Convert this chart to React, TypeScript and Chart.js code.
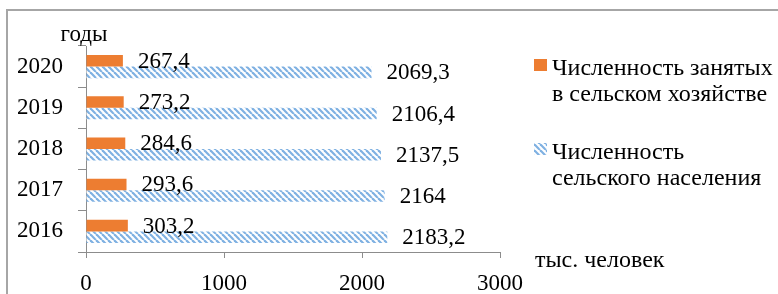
import React, { useEffect, useRef } from "react";
import { Chart, registerables } from "chart.js";

Chart.register(...registerables);

const years = ["2016", "2017", "2018", "2019", "2020"];
const employedAgri = [303.2, 293.6, 284.6, 273.2, 267.4];
const ruralPopulation = [2183.2, 2164, 2137.5, 2106.4, 2069.3];
const seriesNames = [
  ["Численность занятых", "в сельском хозяйстве"],
  ["Численность", "сельского населения"],
];
const yAxisTitle = "годы";
const xAxisTitle = "тыс. человек";
const xTicks = [0, 1000, 2000, 3000];

const FONT = "'Liberation Serif', 'Times New Roman', serif";
const FS = 23;
const LFS = 24;
const ORANGE = "#ed7d31";
const AXIS = "#8c8c8c";

function makeHatch(): CanvasPattern | string {
  const c = document.createElement("canvas");
  c.width = 6;
  c.height = 6;
  const g = c.getContext("2d");
  if (!g) return "#9dc3e6";
  g.fillStyle = "#ffffff";
  g.fillRect(0, 0, 6, 6);
  g.strokeStyle = "#7fb1e2";
  g.lineWidth = 2.2;
  for (const k of [-6, 0, 6]) {
    g.beginPath();
    g.moveTo(k, 0);
    g.lineTo(k + 6, 6);
    g.stroke();
  }
  const p = g.createPattern(c, "repeat");
  return p || "#9dc3e6";
}

const fmt = (v: number) => String(v).replace(".", ",");

export default function App() {
  const ref = useRef<HTMLCanvasElement>(null);
  useEffect(() => {
    if (!ref.current) return;
    const hatch = makeHatch();

    const decor = {
      id: "decor",
      beforeDraw(chart: any) {
        const ctx = chart.ctx;
        ctx.save();
        ctx.strokeStyle = "#a6a6a6";
        ctx.lineWidth = 2;
        ctx.strokeRect(7, 10, 900, 400);
        ctx.restore();
      },
      afterDatasetsDraw(chart: any) {
        const ctx = chart.ctx;
        ctx.save();
        ctx.font = `${FS}px ${FONT}`;
        ctx.fillStyle = "#000";
        ctx.textAlign = "left";
        ctx.textBaseline = "middle";
        chart.data.datasets.forEach((ds: any, di: number) => {
          const meta = chart.getDatasetMeta(di);
          meta.data.forEach((el: any, i: number) => {
            ctx.fillText(fmt(ds.data[i]), el.x + 15, el.y + 1);
          });
        });
        // axis titles
        const area = chart.chartArea;
        ctx.textBaseline = "alphabetic";
        ctx.textAlign = "center";
        ctx.fillText(yAxisTitle, area.left - 2, area.top - 5);
        ctx.font = `24px ${FONT}`;
        ctx.textAlign = "left";
        ctx.fillText(xAxisTitle, area.right + 35, area.bottom + 15);
        // legend
        ctx.font = `${LFS}px ${FONT}`;
        const lx = area.right + 34;
        const items = [
          { color: ORANGE, top: 59 },
          { color: hatch, top: 143 },
        ];
        items.forEach((it, k) => {
          ctx.fillStyle = it.color as any;
          ctx.fillRect(lx, it.top, 13, 12);
          ctx.fillStyle = "#000";
          seriesNames[k].forEach((line, j) => {
            ctx.fillText(line, lx + 18, it.top + 16 + j * 26);
          });
        });
        ctx.restore();
      },
    };

    const chart = new Chart(ref.current, {
      type: "bar",
      data: {
        labels: years,
        datasets: [
          {
            label: seriesNames[0].join(" "),
            data: employedAgri,
            backgroundColor: ORANGE,
            categoryPercentage: 0.56,
            barPercentage: 1,
          },
          {
            label: seriesNames[1].join(" "),
            data: ruralPopulation,
            backgroundColor: hatch as any,
            categoryPercentage: 0.56,
            barPercentage: 1,
          },
        ],
      },
      options: {
        indexAxis: "y",
        animation: false,
        responsive: false,
        layout: { padding: { left: 0, top: 46, right: 278, bottom: 0 } },
        plugins: { legend: { display: false }, tooltip: { enabled: false } },
        scales: {
          x: {
            min: 0,
            max: 3000,
            afterBuildTicks(scale: any) {
              scale.ticks = xTicks.map((v) => ({ value: v }));
            },
            afterFit(scale: any) {
              scale.height = 42;
            },
            border: { display: true, color: AXIS, width: 1 },
            grid: {
              drawOnChartArea: false,
              drawTicks: true,
              tickLength: 6,
              color: AXIS,
            },
            ticks: {
              color: "#000",
              font: { family: FONT, size: FS },
              padding: 12,
              maxRotation: 0,
              callback: (v: any) => String(v),
            },
          },
          y: {
            reverse: true,
            afterFit(scale: any) {
              scale.width = 86;
            },
            border: { display: true, color: AXIS, width: 1 },
            grid: {
              drawOnChartArea: false,
              drawTicks: true,
              tickLength: 8,
              color: AXIS,
            },
            ticks: {
              color: "#000",
              font: { family: FONT, size: FS },
              padding: 15,
            },
          },
        },
      },
      plugins: [decor],
    });
    return () => chart.destroy();
  }, []);

  return (
    <div style={{ position: "fixed", left: 0, top: 0, width: 778, height: 294, background: "#fff" }}>
      <canvas ref={ref} width={778} height={294} style={{ width: 778, height: 294, display: "block" }} />
    </div>
  );
}
